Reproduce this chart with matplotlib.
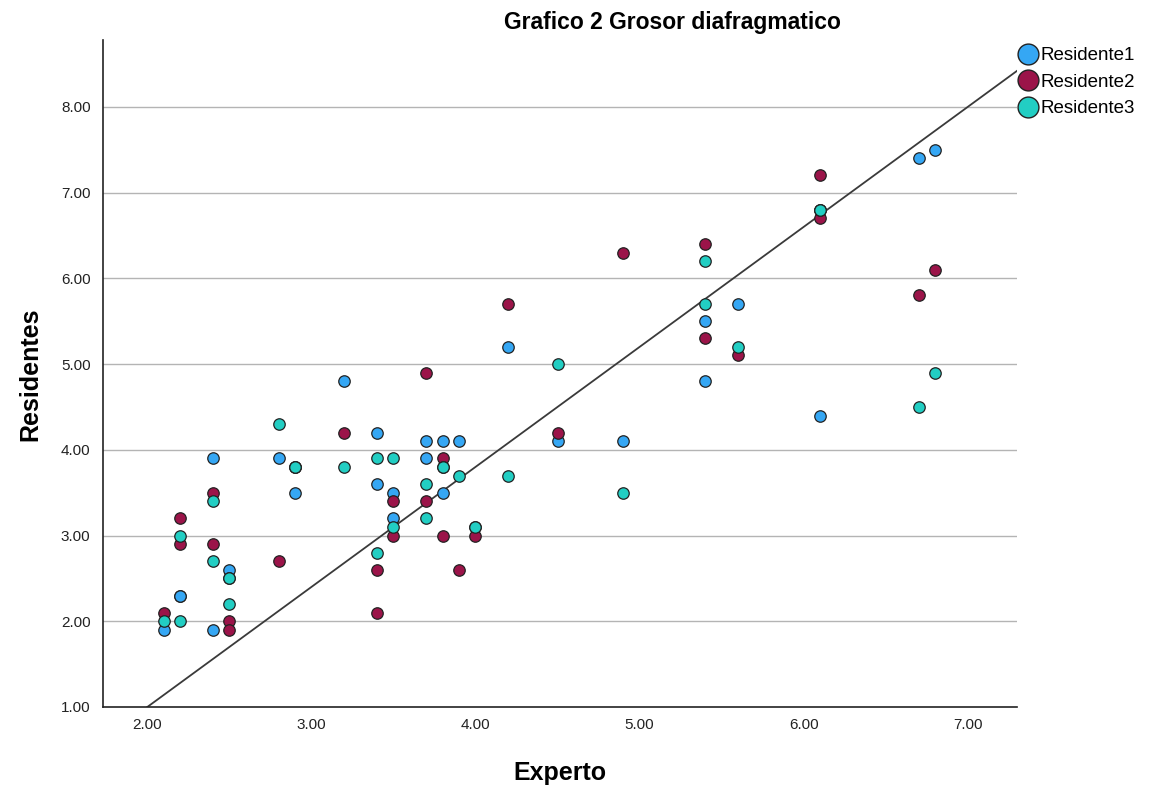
import matplotlib
matplotlib.use("Agg")
import matplotlib.pyplot as plt
from matplotlib.lines import Line2D

# ---- data (Experto value, Residente value) ----
res1_x = [2.1, 2.2, 2.2, 2.4, 2.4, 2.5, 2.5, 2.8, 2.9, 2.9, 3.2, 3.4, 3.4, 3.5, 3.5, 3.7, 3.7,
          3.8, 3.8, 3.9, 4.0, 4.2, 4.5, 4.9, 5.4, 5.4, 5.6, 6.1, 6.1, 6.7, 6.8]
res1_y = [1.9, 2.3, 2.3, 3.9, 1.9, 2.6, 2.5, 3.9, 3.5, 3.8, 4.8, 4.2, 3.6, 3.5, 3.2, 4.1, 3.9,
          4.1, 3.5, 4.1, 3.1, 5.2, 4.1, 4.1, 5.5, 4.8, 5.7, 6.8, 4.4, 7.4, 7.5]

res2_x = [2.1, 2.2, 2.2, 2.4, 2.4, 2.5, 2.5, 2.8, 2.9, 3.2, 3.4, 3.4, 3.5, 3.5, 3.7, 3.7,
          3.8, 3.8, 3.9, 4.0, 4.2, 4.5, 4.9, 5.4, 5.4, 5.6, 6.1, 6.1, 6.7, 6.8]
res2_y = [2.1, 3.2, 2.9, 3.5, 2.9, 2.0, 1.9, 2.7, 3.8, 4.2, 2.6, 2.1, 3.4, 3.0, 4.9, 3.4,
          3.9, 3.0, 2.6, 3.0, 5.7, 4.2, 6.3, 6.4, 5.3, 5.1, 7.2, 6.7, 5.8, 6.1]

res3_x = [2.1, 2.2, 2.2, 2.4, 2.4, 2.5, 2.5, 2.8, 2.9, 3.2, 3.4, 3.4, 3.5, 3.5, 3.7, 3.7,
          3.8, 3.8, 3.9, 4.0, 4.2, 4.5, 4.9, 5.4, 5.4, 5.6, 6.1, 6.1, 6.7, 6.8]
res3_y = [2.0, 3.0, 2.0, 3.4, 2.7, 2.5, 2.2, 4.3, 3.8, 3.8, 3.9, 2.8, 3.9, 3.1, 3.6, 3.2,
          3.8, 3.8, 3.7, 3.1, 3.7, 5.0, 3.5, 6.2, 5.7, 5.2, 6.8, 6.8, 4.5, 4.9]

series_names = ["Residente1", "Residente2", "Residente3"]
series_colors = ["#35A7F4", "#9B1449", "#22CEC3"]

line_slope = 1.40
line_intercept = -1.80

x_ticks = [2.0, 3.0, 4.0, 5.0, 6.0, 7.0]
y_ticks = [1.0, 2.0, 3.0, 4.0, 5.0, 6.0, 7.0, 8.0]

title = "Grafico 2 Grosor diafragmatico"
x_label = "Experto"
y_label = "Residentes"

# ---- figure ----
plt.rcParams['font.family'] = ['Liberation Sans', 'DejaVu Sans']
W, H = 1156, 786
fig = plt.figure(figsize=(W / 100, H / 100), dpi=100)
ax = fig.add_axes([103 / W, 1 - 707 / H, (1017 - 103) / W, (707 - 40) / H])

ax.set_xlim(1.73, 7.30)
ax.set_ylim(1.0, 8.78)

for yv in y_ticks[1:]:
    ax.axhline(yv, color="#B4B4B4", lw=1.0, zorder=1)

ax.axline((0, line_intercept), slope=line_slope, color="#3A3A3A", lw=1.3, zorder=2)

for xs, ys, c in zip([res1_x, res2_x, res3_x], [res1_y, res2_y, res3_y], series_colors):
    ax.scatter(xs, ys, s=68, color=c, edgecolors="#222222", linewidths=0.9, zorder=3)

ax.set_xticks(x_ticks)
ax.set_xticklabels([f"{v:.2f}" for v in x_ticks])
ax.set_yticks(y_ticks)
ax.set_yticklabels([f"{v:.2f}" for v in y_ticks])
ax.tick_params(length=0, labelsize=11, colors="#222222", pad=9)
ax.tick_params(axis='x', pad=8)

for s in ["top", "right"]:
    ax.spines[s].set_visible(False)
for s in ["left", "bottom"]:
    ax.spines[s].set_color("#222222")
    ax.spines[s].set_linewidth(1.2)

fig.text(672 / W, 1 - 23 / H, title, ha="center", va="center", fontsize=16.5, fontweight="bold")
fig.text(560 / W, 1 - 773 / H, x_label, ha="center", va="center", fontsize=18, fontweight="bold")
fig.text(30 / W, 1 - 374 / H, y_label, ha="center", va="center", rotation=90, fontsize=18,
         fontweight="bold")

handles = [Line2D([], [], marker="o", linestyle="", markersize=15, markerfacecolor=c,
                  markeredgecolor="#222222", markeredgewidth=1.0) for c in series_colors]
fig.legend(handles, series_names, loc="upper left", bbox_to_anchor=(1016 / W, 1 - 47 / H),
           frameon=False, fontsize=13.5, handletextpad=0.0, labelspacing=0.5,
           borderaxespad=0, borderpad=0, handlelength=1.3)

fig.savefig("out.png", dpi=100)
